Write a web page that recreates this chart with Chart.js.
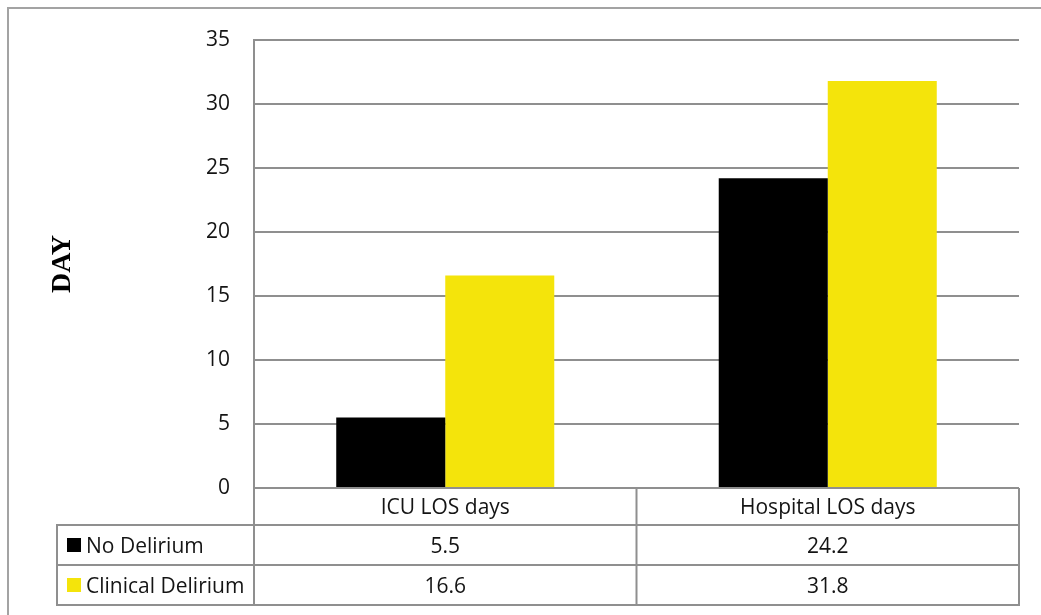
<!DOCTYPE html>
<html lang="en">
<head>
<meta charset="UTF-8">
<title>Length of stay by delirium status</title>
<script src="https://cdn.jsdelivr.net/npm/chart.js@4.4.1/dist/chart.umd.min.js"></script>
<style>
  * { box-sizing: border-box; margin: 0; padding: 0; }
  html, body { width: 1041px; height: 615px; overflow: hidden; background: #fff; }
  .frame {
    position: absolute; left: 7px; top: 7px;
    width: 1100px; height: 700px;
    border: 2px solid #a3a3a3;
  }
  .chart-box { position: absolute; left: 0; top: 0; width: 1041px; height: 615px; }
</style>
</head>
<body>
<div class="frame"></div>
<div class="chart-box"><canvas id="losChart" width="1041" height="615"></canvas></div>
<script>
  const categories = ['ICU LOS days', 'Hospital LOS days'];
  const seriesNames = ['No Delirium', 'Clinical Delirium'];
  const noDelirium = [5.5, 24.2];
  const clinicalDelirium = [16.6, 31.8];
  const yTicks = [0, 5, 10, 15, 20, 25, 30, 35];

  const lineColor = '#8f8f8f';
  const textColor = '#141414';
  const labelFont = { family: '"Open Sans", sans-serif', size: 21 };

  // data table under the plot (header row holds the category ticks)
  const dataTable = {
    id: 'dataTable',
    afterDraw(chart) {
      const { ctx, chartArea: area, scales: { x } } = chart;
      const headerBottom = area.bottom + 37;
      const rowH = 40;
      const tableBottom = headerBottom + rowH * 2;
      const legendLeft = 57;
      const mid = (x.getPixelForValue(0) + x.getPixelForValue(1)) / 2;

      ctx.save();
      ctx.strokeStyle = lineColor;
      ctx.lineWidth = 2;
      ctx.beginPath();
      ctx.moveTo(area.left, area.top - 1);
      ctx.lineTo(area.left, tableBottom + 1);
      ctx.moveTo(area.right, area.bottom);
      ctx.lineTo(area.right, tableBottom + 1);
      ctx.moveTo(mid, area.bottom);
      ctx.lineTo(mid, tableBottom);
      ctx.moveTo(legendLeft, headerBottom);
      ctx.lineTo(legendLeft, tableBottom + 1);
      for (let r = 0; r <= 2; r++) {
        const y = headerBottom + r * rowH;
        ctx.moveTo(legendLeft - 1, y);
        ctx.lineTo(area.right + 1, y);
      }
      ctx.stroke();

      ctx.font = `${labelFont.size}px ${labelFont.family}`;
      ctx.textBaseline = 'middle';
      chart.data.datasets.forEach((ds, r) => {
        const yc = headerBottom + r * rowH + rowH / 2;
        ctx.fillStyle = ds.backgroundColor;
        ctx.fillRect(67, yc - 7, 14, 14);
        ctx.fillStyle = textColor;
        ctx.textAlign = 'left';
        ctx.fillText(ds.label, 86, yc + 2);
        ctx.textAlign = 'center';
        ds.data.forEach((v, i) => ctx.fillText(v.toFixed(1), x.getPixelForValue(i), yc + 2));
      });
      ctx.restore();
    }
  };

  new Chart(document.getElementById('losChart'), {
    type: 'bar',
    data: {
      labels: categories,
      datasets: [
        { label: seriesNames[0], data: noDelirium, backgroundColor: '#000000' },
        { label: seriesNames[1], data: clinicalDelirium, backgroundColor: '#f4e40b' }
      ]
    },
    options: {
      responsive: false,
      animation: false,
      events: [],
      categoryPercentage: 0.57,
      barPercentage: 1,
      layout: { padding: { left: 0, top: 40, right: 22, bottom: 0 } },
      plugins: {
        legend: { display: false },
        tooltip: { enabled: false }
      },
      scales: {
        x: {
          grid: { display: false, drawTicks: false },
          border: { display: false },
          ticks: { padding: 7, font: labelFont, color: textColor },
          afterFit(s) { s.height = 127; }
        },
        y: {
          min: 0,
          max: 35,
          afterBuildTicks(s) { s.ticks = yTicks.map(v => ({ value: v })); },
          ticks: { padding: 24, font: labelFont, color: textColor },
          grid: { color: lineColor, lineWidth: 2, drawTicks: false },
          border: { display: false },
          title: {
            display: true,
            text: 'DAY',
            color: '#000',
            font: { family: '"Liberation Serif", serif', size: 28, weight: 'bold' },
            padding: { top: 46, bottom: 0 }
          },
          afterFit(s) { s.width = 254; }
        }
      }
    },
    plugins: [dataTable]
  });
</script>
</body>
</html>
